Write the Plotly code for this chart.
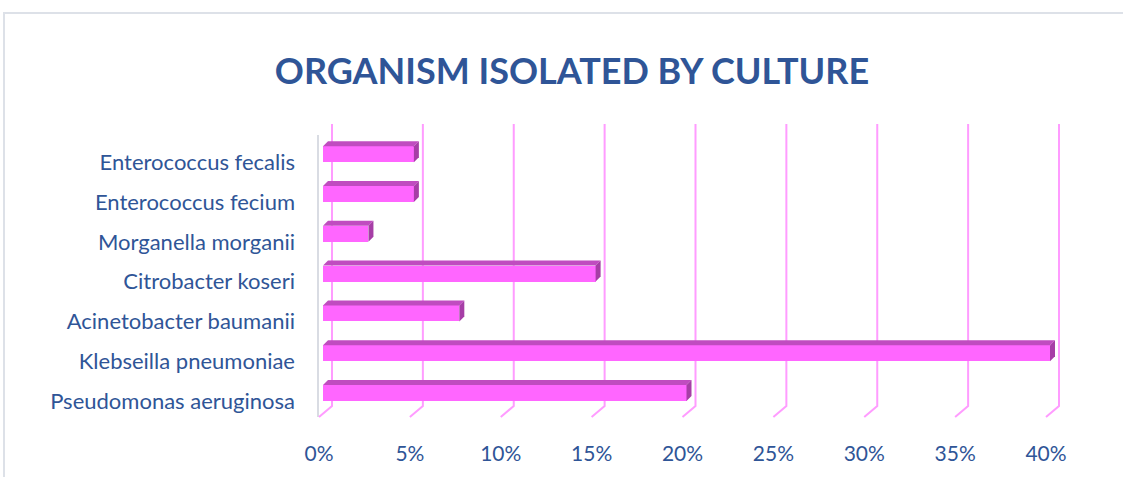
import plotly.graph_objects as go

# ---- data ----
organisms = ["Pseudomonas aeruginosa", "Klebseilla pneumoniae", "Acinetobacter baumanii",
             "Citrobacter koseri", "Morganella morganii", "Enterococcus fecium", "Enterococcus fecalis"]
shares = [0.20, 0.40, 0.075, 0.15, 0.025, 0.05, 0.05]
tick_vals = [0, 0.05, 0.10, 0.15, 0.20, 0.25, 0.30, 0.35, 0.40]
tick_text = ["0%", "5%", "10%", "15%", "20%", "25%", "30%", "35%", "40%"]
title_text = "ORGANISM ISOLATED BY CULTURE"

# ---- layout geometry (pixels) ----
W, H = 1123, 477
L, R, T, B = 300, 1090, 115, 425          # plot area edges in px
X0_PX, X40_PX = 323, 1050                 # px of 0 and 0.4
PXU = (X40_PX - X0_PX) / 0.4              # px per x unit
ROW0_PX, ROW_STEP = 401, 39.8             # px of row 0 and spacing
xr = [-(X0_PX - L) / PXU, 0.4 + (R - X40_PX) / PXU]
yr = [(ROW0_PX - B) / ROW_STEP, (ROW0_PX - T) / ROW_STEP]

def dx(px):
    return px / PXU

def dy(px):
    return px / ROW_STEP

def pyd(py):  # absolute px -> y data
    return (ROW0_PX - py) / ROW_STEP

def paper_x(px):
    return (px - L) / (R - L)

def paper_y(py):
    return (B - py) / (B - T)

FRONT = "#FF66FF"
TOP = "#C04CC0"
END = "#A63EA6"
GRID = "#FF9CFF"
BLUE = "#2F5597"
FONT = "Lato"

bar_w = 16 / ROW_STEP
depth_x, depth_y = 5, 5
rows = list(range(len(organisms)))

fig = go.Figure()
fig.add_trace(go.Bar(
    x=shares, y=rows, orientation="h", width=bar_w, offset=0,
    marker=dict(color=FRONT, line=dict(width=0)), hoverinfo="skip"))

shapes = []
# left wall edge
shapes.append(dict(type="line", xref="x", yref="y", layer="below",
                   x0=-dx(5), x1=-dx(5), y0=pyd(135), y1=pyd(417),
                   line=dict(color="#D9DCE3", width=2)))
# back grid lines with floor slant
for t in tick_vals:
    xb = t + dx(9)
    xf = t - dx(4)
    shapes.append(dict(type="path", xref="x", yref="y", layer="below",
                       path=f"M {xb},{pyd(124)} L {xb},{pyd(406)} L {xf},{pyd(417)}",
                       line=dict(color=GRID, width=2)))
# 3D faces of bars
for k, v in zip(rows, shares):
    top = k + bar_w
    bot = k
    shapes.append(dict(type="path", xref="x", yref="y", layer="above",
                       path=(f"M 0,{top} L {v},{top} L {v + dx(depth_x)},{top + dy(depth_y)} "
                             f"L {dx(depth_x)},{top + dy(depth_y)} Z"),
                       fillcolor=TOP, line=dict(width=0)))
    shapes.append(dict(type="path", xref="x", yref="y", layer="above",
                       path=(f"M {v},{bot} L {v},{top} L {v + dx(depth_x)},{top + dy(depth_y)} "
                             f"L {v + dx(depth_x)},{bot + dy(depth_y)} Z"),
                       fillcolor=END, line=dict(width=0)))
# outer frame
shapes.append(dict(type="path", xref="paper", yref="paper", layer="below",
                   path=(f"M {paper_x(4)},{paper_y(490)} L {paper_x(4)},{paper_y(13)} "
                         f"L {paper_x(1130)},{paper_y(13)}"),
                   line=dict(color="#DDE1E8", width=2)))

fig.update_layout(
    width=W, height=H,
    margin=dict(l=L, r=W - R, t=T, b=H - B, pad=0),
    paper_bgcolor="white", plot_bgcolor="white",
    showlegend=False,
    bargap=0,
    title=dict(text=title_text, x=572 / W, xref="container", xanchor="center",
               y=1 - 71 / H, yref="container", yanchor="middle",
               font=dict(family=FONT, size=36, color=BLUE, weight="bold")),
    xaxis=dict(range=xr, tickvals=tick_vals, ticktext=tick_text, showgrid=False,
               zeroline=False, showline=False, ticks="", ticklabelshift=-4,
               ticklabelstandoff=14,
               tickfont=dict(family=FONT, size=21, color=BLUE), fixedrange=True),
    yaxis=dict(range=yr, tickvals=rows, ticktext=organisms, showgrid=False,
               zeroline=False, showline=False, ticks="", ticklabelstandoff=4,
               tickfont=dict(family=FONT, size=22, color=BLUE), fixedrange=True),
    shapes=shapes,
)

fig.write_html("out.html", config={"displayModeBar": False},
               post_script="document.body.style.margin='0';document.body.style.overflow='hidden';")
